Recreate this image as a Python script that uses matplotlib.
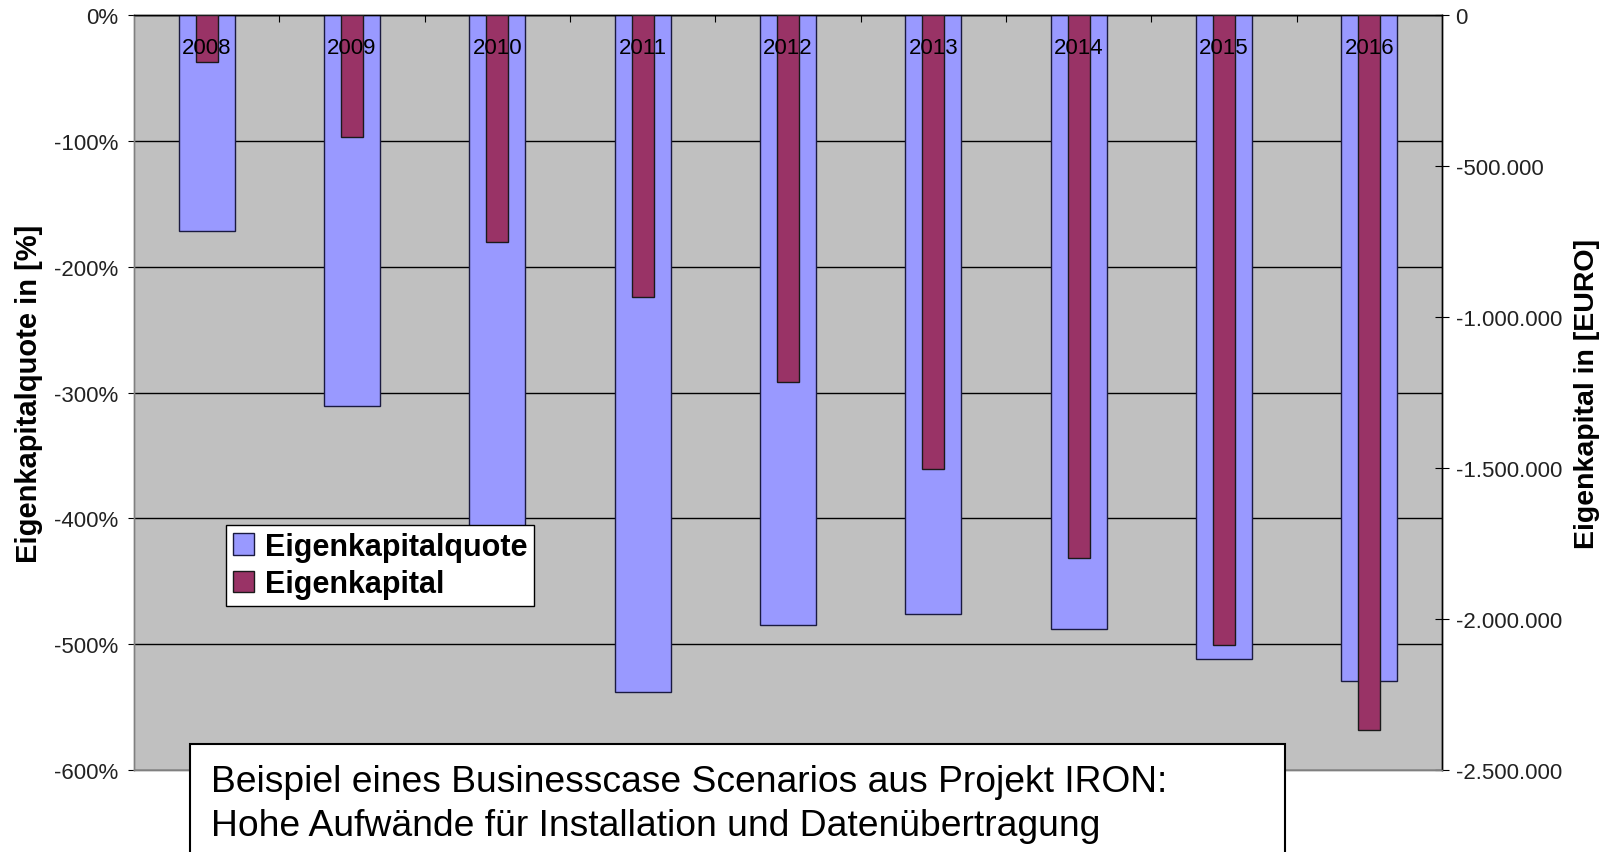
import matplotlib.pyplot as plt
from matplotlib.patches import Rectangle, Patch
from matplotlib.ticker import FuncFormatter, MultipleLocator
import matplotlib.transforms as mtransforms

plt.rcParams['font.family'] = ['Liberation Sans', 'DejaVu Sans']

# Businesscase IRON: Eigenkapitalquote (left axis, %) and Eigenkapital (right axis, EUR)
years = ['2008', '2009', '2010', '2011', '2012', '2013', '2014', '2015', '2016']
quote_pct = [-172, -311, -445, -538, -485, -476, -488, -512, -529]
eigenkapital = [-155000, -403000, -753000, -933000, -1216000,
                -1502000, -1798000, -2087000, -2367000]

W, H = 1611, 853
fig = plt.figure(figsize=(W / 100, H / 100), dpi=100)
# plot area in pixels: x 134..1442, y 16..771
ax = fig.add_axes([134 / W, 1 - 771 / H, (1442 - 134) / W, (771 - 16) / H])
ax2 = ax.twinx()

x = list(range(len(years)))
ax.set_facecolor('#C0C0C0')
ax.bar(x, quote_pct, width=0.385, color='#9999FF', edgecolor='#1a1a40',
       linewidth=1.0, zorder=3)
ax2.bar(x, eigenkapital, width=0.15, color='#993366', edgecolor='#1a1a1a',
        linewidth=1.0, zorder=3)

# left axis
ax.set_xlim(-0.5, len(years) - 0.5)
ax.set_ylim(-600, 0)
ax.yaxis.set_major_locator(MultipleLocator(100))
ax.yaxis.set_major_formatter(FuncFormatter(lambda v, p: f'{v:.0f}%'))
ax.grid(axis='y', color='black', linewidth=1.0, zorder=1)
ax.set_axisbelow(True)
ax.tick_params(axis='y', direction='out', length=4.5, width=0.8, pad=7,
               labelsize=16, labelcolor='#222222')

# category axis sits at 0 on top, ticks between the years
ax.xaxis.set_ticks_position('top')
ax.set_xticks([i + 0.5 for i in x[:-1]])
ax.set_xticklabels([])
ax.tick_params(axis='x', direction='in', length=5, width=0.8, top=True, bottom=False)

# right axis
ax2.set_ylim(-2500000, 0)
ax2.yaxis.set_major_locator(MultipleLocator(500000))
ax2.yaxis.set_major_formatter(
    FuncFormatter(lambda v, p: f'{v:,.0f}'.replace(',', '.')))
ax2.tick_params(axis='y', direction='inout', length=9.5, width=0.8, pad=5,
                labelsize=16, labelcolor='#222222')

for a in (ax, ax2):
    a.spines['left'].set_color('#808080')
    a.spines['bottom'].set_color('#808080')
    a.spines['top'].set_color('black')
    a.spines['right'].set_color('black')
    for s in a.spines.values():
        s.set_linewidth(1.0)

ax.set_ylabel('Eigenkapitalquote in [%]', fontsize=21, fontweight='bold')
ax.yaxis.set_label_coords((43 - 134) / 1308, 0.5)
ax2.set_ylabel('Eigenkapital in [EURO]', fontsize=20.5, fontweight='bold')
ax2.yaxis.set_label_coords((1574 - 134) / 1308, 0.5)

# year labels inside the plot, just below the category axis
trans = mtransforms.blended_transform_factory(ax2.transData, ax2.transAxes)
for i, yr in enumerate(years):
    ax2.text(i, 1 - 33 / 755, yr, transform=trans, ha='center', va='center',
             fontsize=16, color='black', zorder=5)

handles = [Patch(facecolor='#9999FF', edgecolor='#1a1a40', label='Eigenkapitalquote'),
           Patch(facecolor='#993366', edgecolor='#1a1a1a', label='Eigenkapital')]
leg = ax2.legend(handles=handles, loc='upper left',
                 bbox_to_anchor=(226 / W, 1 - 526 / H), bbox_transform=fig.transFigure,
                 prop={'weight': 'bold', 'size': 22}, fancybox=False, framealpha=1,
                 edgecolor='black', borderpad=0.22, labelspacing=0.25,
                 handlelength=0.7, handleheight=0.7, handletextpad=0.35,
                 borderaxespad=0)
leg.get_frame().set_linewidth(1.0)
leg.set_zorder(10)

# note box at the bottom of the figure
fig.add_artist(Rectangle((190 / W, -0.05), (1285 - 190) / W, 0.05 + 1 - 745 / H,
                         transform=fig.transFigure, facecolor='white',
                         edgecolor='black', linewidth=1.5, zorder=20))
fig.text(211 / W, 1 - 765 / H,
         'Beispiel eines Businesscase Scenarios aus Projekt IRON:\n'
         'Hohe Aufwände für Installation und Datenübertragung',
         ha='left', va='top', fontsize=26.8, linespacing=1.32, zorder=21)

fig.savefig('out.png', dpi=100)
